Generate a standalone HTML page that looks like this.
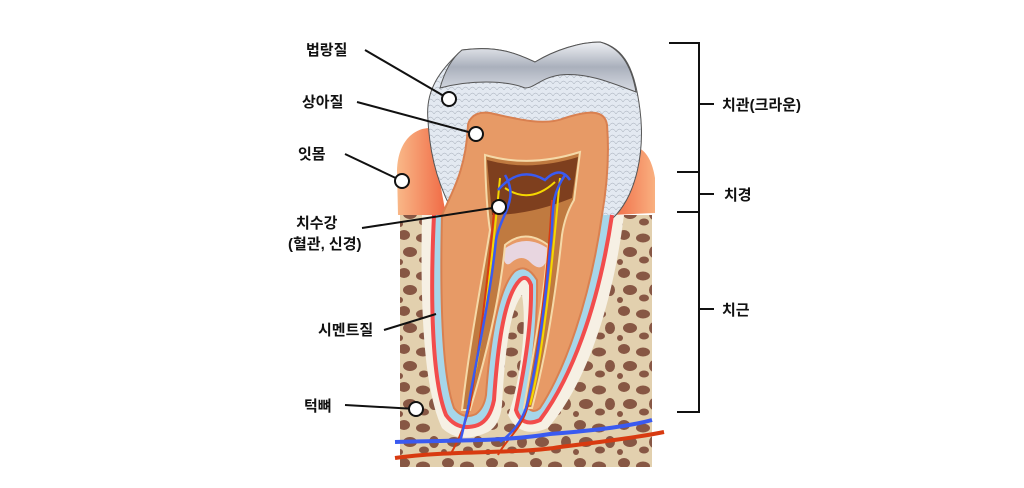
<!DOCTYPE html>
<html><head><meta charset="utf-8"><style>
html,body{margin:0;padding:0;background:#fff;}
svg{display:block}
text{font-family:"Liberation Sans","Noto Sans CJK KR","NanumGothic",sans-serif;font-size:15px;font-weight:bold;fill:#111}
</style></head><body>
<svg width="1024" height="488" viewBox="0 0 1024 488" xmlns="http://www.w3.org/2000/svg">
<defs>
<pattern id="bone" width="44" height="38" patternUnits="userSpaceOnUse">
<rect width="44" height="38" fill="#e2d0ae"/>
<ellipse cx="8" cy="7" rx="6" ry="5" fill="#875744"/>
<ellipse cx="27" cy="10" rx="7" ry="4.5" fill="#875744"/>
<ellipse cx="38" cy="24" rx="5" ry="6" fill="#875744"/>
<ellipse cx="14" cy="24" rx="7" ry="5" fill="#875744"/>
<ellipse cx="28" cy="32" rx="5" ry="3.5" fill="#875744"/>
<ellipse cx="4" cy="34" rx="3" ry="3" fill="#875744"/>
</pattern>
<linearGradient id="gumL" x1="0" x2="1"><stop offset="0" stop-color="#f9b888"/><stop offset="1" stop-color="#f06a45"/></linearGradient>
<linearGradient id="gumR" x1="0" x2="1"><stop offset="0" stop-color="#f06a45"/><stop offset="1" stop-color="#f9b080"/></linearGradient>
<linearGradient id="top" x1="0" y1="0" x2="0" y2="1"><stop offset="0" stop-color="#eef0f4"/><stop offset="0.5" stop-color="#aab0bc"/><stop offset="1" stop-color="#d8dce4"/></linearGradient>
<pattern id="mesh" width="7" height="6" patternUnits="userSpaceOnUse"><rect width="7" height="6" fill="#e3e9f1"/><path d="M0 6 Q3.5 0 7 6" fill="none" stroke="#9ea6b2" stroke-width="0.5"/></pattern>
</defs>
<rect x="400" y="215" width="252" height="252" fill="url(#bone)"/>
<path d="M398 215 L397 170 C398 140 415 128 430 128 L446 215 Z" fill="url(#gumL)"/>
<path d="M612 215 L628 146 C645 145 652 160 655 178 L655 213 Z" fill="url(#gumR)"/>
<path d="M422 215 C420 310 424 390 442 428 Q460 445 488 432 Q500 425 502 405 C505 350 510 310 522 295 C528 330 518 390 508 415 Q520 440 548 428 C585 385 612 310 624 215 Z" fill="#f6f0e4"/>
<path d="M428 120 C425 90 440 70 462 50 C500 45 520 55 535 62 C555 50 580 42 600 42 C625 48 635 70 640 110 C645 150 637 195 613 218 L457 220 C440 190 430 160 428 120 Z" fill="url(#mesh)" stroke="#555" stroke-width="1"/>
<path d="M440 88 C445 70 452 58 462 50 C500 45 520 55 535 62 C555 50 580 42 600 42 C622 48 632 68 636 92 C610 82 585 72 560 75 C540 78 535 88 525 88 C505 80 470 80 440 88 Z" fill="url(#top)" stroke="#555" stroke-width="1"/>
<path d="M434 215 C430 300 432 380 446 415 Q458 432 478 425 Q490 420 494 400 C498 340 505 295 520 280 Q527 274 531 285 C532 330 522 380 516 410 Q522 428 540 420 C570 380 598 310 612 215 Z" fill="#a6d6ea"/>
<path d="M434 215 C430 300 432 380 446 415 Q458 432 478 425 Q490 420 494 400 C498 340 505 295 520 280 Q527 274 531 285 C532 330 522 380 516 410 Q522 428 540 420 C570 380 598 310 612 215" fill="none" stroke="#f24c4c" stroke-width="4"/>
<path d="M442 215 C440 300 442 375 454 408 Q463 420 476 414 Q484 408 486 395 C490 340 498 290 514 272 Q526 262 537 280 C538 330 530 380 526 405 Q532 415 540 408 C565 370 590 300 602 215 C608 180 609 150 607 125 C605 110 590 110 565 118 C545 126 520 120 490 113 C470 110 468 125 468 125 C466 170 452 192 442 215 Z" fill="#e79a66" stroke="#d98050" stroke-width="2"/>
<path d="M503 250 Q526 232 550 250 C546 268 540 272 530 262 Q522 254 512 262 C506 268 503 262 503 250 Z" fill="#e8d6e0"/>
<path d="M485 155 Q530 168 580 152 L574 200 Q565 215 562 235 C555 300 545 360 532 408 L524 408 C534 350 545 290 548 245 Q525 228 505 245 C500 300 485 360 470 410 L462 410 C470 340 482 280 490 230 Q486 205 485 155 Z" fill="#c07a40" stroke="#f5d9a8" stroke-width="2"/>
<path d="M487 160 Q530 172 578 157 L572 198 Q530 215 492 215 Z" fill="#7e3f1e"/>
<g fill="none" stroke="#f5d800" stroke-width="2">
<path d="M500 178 C496 220 492 260 484 320 C478 360 472 390 468 405"/>
<path d="M560 178 C556 220 552 270 545 320 C540 360 534 390 530 405"/>
<path d="M505 188 Q530 205 555 182"/>
</g>
<g fill="none" stroke="#d83a10" stroke-width="2">
<path d="M495 200 C490 260 482 330 470 405 C464 430 456 445 450 455"/>
<path d="M552 200 C548 270 540 340 528 405 C522 430 505 440 498 455"/>
</g>
<g fill="none" stroke="#3a5af0" stroke-width="2.5">
<path d="M505 175 C520 200 500 215 496 240 C490 300 476 360 468 408 C464 425 462 435 460 442"/>
<path d="M565 175 C548 200 555 215 550 250 C544 320 534 380 526 408 C520 425 510 435 500 442"/>
<path d="M498 190 Q520 165 545 180 Q560 165 570 180"/>
</g>
<path d="M395 442 C450 440 500 442 550 434 C600 430 630 426 652 420" fill="none" stroke="#3a5af0" stroke-width="4"/>
<path d="M395 458 C450 450 520 454 560 447 C600 442 640 437 664 432" fill="none" stroke="#d83a10" stroke-width="4"/>
<g stroke="#111" stroke-width="2" fill="none">
<line x1="365" y1="50" x2="449" y2="99"/>
<line x1="357" y1="102" x2="476" y2="134"/>
<line x1="345" y1="154" x2="402" y2="181"/>
<line x1="362" y1="228" x2="499" y2="207"/>
<line x1="384" y1="330" x2="436" y2="314"/>
<line x1="345" y1="405" x2="416" y2="409"/>
</g>
<g fill="#fff" stroke="#111" stroke-width="2">
<circle cx="449" cy="99" r="7"/><circle cx="476" cy="134" r="7"/><circle cx="402" cy="181" r="7"/><circle cx="499" cy="207" r="7"/><circle cx="416" cy="409" r="7"/>
</g>
<g stroke="#111" stroke-width="2" fill="none">
<path d="M669 43 H699 V412 H677"/>
<line x1="677" y1="172" x2="699" y2="172"/>
<line x1="677" y1="212" x2="699" y2="212"/>
<line x1="699" y1="104" x2="714" y2="104"/>
<line x1="699" y1="194" x2="714" y2="194"/>
<line x1="699" y1="309" x2="714" y2="309"/>
</g>
<text x="306" y="55">법랑질</text>
<text x="302" y="107">상아질</text>
<text x="298" y="159">잇몸</text>
<text x="296" y="228">치수강</text>
<text x="288" y="249">(혈관, 신경)</text>
<text x="318" y="335">시멘트질</text>
<text x="304" y="411">턱뼈</text>
<text x="722" y="110">치관(크라운)</text>
<text x="724" y="200">치경</text>
<text x="722" y="315">치근</text>
</svg>
</body></html>
